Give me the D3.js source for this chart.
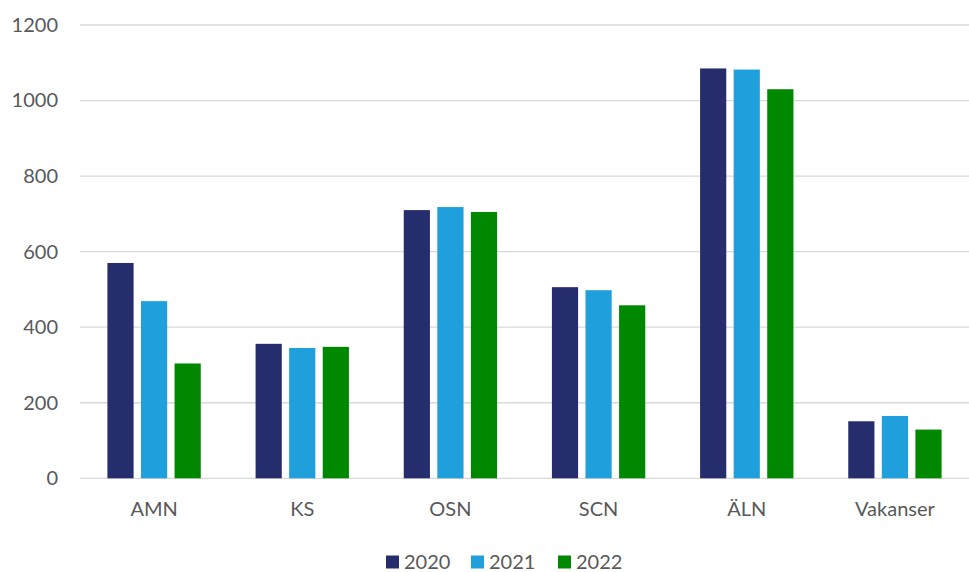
<!DOCTYPE html>
<html>
<head>
  <meta charset="utf-8">
  <style>
    html, body { margin: 0; padding: 0; background: #fff; overflow: hidden; }
    svg { display: block; }
    text { font-family: Lato, "Noto Sans", sans-serif; fill: #595959; font-size: 20px; }
  </style>
</head>
<body>
  <svg id="chart"></svg>
  <script src="https://cdn.jsdelivr.net/npm/d3@7"></script>
  <script>
    // data
    const categories = ['AMN', 'KS', 'OSN', 'SCN', 'ÄLN', 'Vakanser'];
    const years = ['2020', '2021', '2022'];
    const values2020 = [570, 356, 710, 506, 1085, 151];
    const values2021 = [469, 345, 718, 498, 1082, 165];
    const values2022 = [304, 348, 705, 458, 1030, 129];
    const yTicks = [0, 200, 400, 600, 800, 1000, 1200];
    const colors = ['#262d6c', '#1f9fdb', '#008800'];

    const series = [values2020, values2021, values2022];
    const data = categories.map((c, i) => ({
      cat: c,
      vals: years.map((y, j) => ({ year: y, value: series[j][i] }))
    }));

    const width = 969, height = 572;
    const margin = { top: 25, right: 0, bottom: 94, left: 80 };

    const svg = d3.select('#chart')
      .attr('width', width)
      .attr('height', height);

    const x0 = d3.scaleBand()
      .domain(categories)
      .range([margin.left, width - margin.right])
      .paddingInner(0.37)
      .paddingOuter(0.185);

    const x1 = d3.scaleBand()
      .domain(years)
      .range([0, x0.bandwidth()])
      .paddingInner(0.22);

    const y = d3.scaleLinear()
      .domain([0, 1200])
      .range([height - margin.bottom + 0.3, margin.top]);

    const color = d3.scaleOrdinal().domain(years).range(colors);

    // gridlines
    svg.append('g')
      .selectAll('line')
      .data(yTicks)
      .enter()
      .append('line')
      .attr('x1', margin.left)
      .attr('x2', width)
      .attr('y1', d => y(d))
      .attr('y2', d => y(d))
      .attr('stroke', '#d9d9d9')
      .attr('stroke-width', 1.3);

    // y axis labels
    const yAxis = svg.append('g')
      .attr('transform', `translate(${margin.left - 22},0)`)
      .call(d3.axisLeft(y).tickValues(yTicks).tickFormat(d3.format('d')).tickSize(0).tickPadding(0));
    yAxis.select('.domain').remove();
    yAxis.selectAll('text')
      .attr('font-size', 20)
      .style('font-family', 'Lato, "Noto Sans", sans-serif')
      .attr('fill', '#595959');

    // bars
    const groups = svg.append('g')
      .selectAll('g')
      .data(data)
      .enter()
      .append('g')
      .attr('transform', d => `translate(${x0(d.cat)},0)`);

    groups.selectAll('rect')
      .data(d => d.vals)
      .enter()
      .append('rect')
      .attr('x', d => x1(d.year))
      .attr('y', d => y(d.value))
      .attr('width', x1.bandwidth())
      .attr('height', d => y(0) - y(d.value))
      .attr('fill', d => color(d.year));

    // x axis labels
    const xAxis = svg.append('g')
      .attr('transform', `translate(0,${y(0)})`)
      .call(d3.axisBottom(x0).tickSize(0).tickPadding(0));
    xAxis.select('.domain').remove();
    xAxis.selectAll('text')
      .attr('y', 38)
      .attr('dy', null)
      .attr('font-size', 20)
      .style('font-family', 'Lato, "Noto Sans", sans-serif')
      .attr('fill', '#595959');

    // legend
    const legendX = [386, 471, 558];
    const legend = svg.append('g')
      .selectAll('g')
      .data(years)
      .enter()
      .append('g')
      .attr('transform', (d, i) => `translate(${legendX[i]},562)`);

    legend.append('rect')
      .attr('x', 0)
      .attr('y', -6.5)
      .attr('width', 13)
      .attr('height', 13)
      .attr('fill', d => color(d));

    legend.append('text')
      .attr('x', 18)
      .attr('y', 7)
      .attr('font-size', 20)
      .text(d => d);
  </script>
</body>
</html>
